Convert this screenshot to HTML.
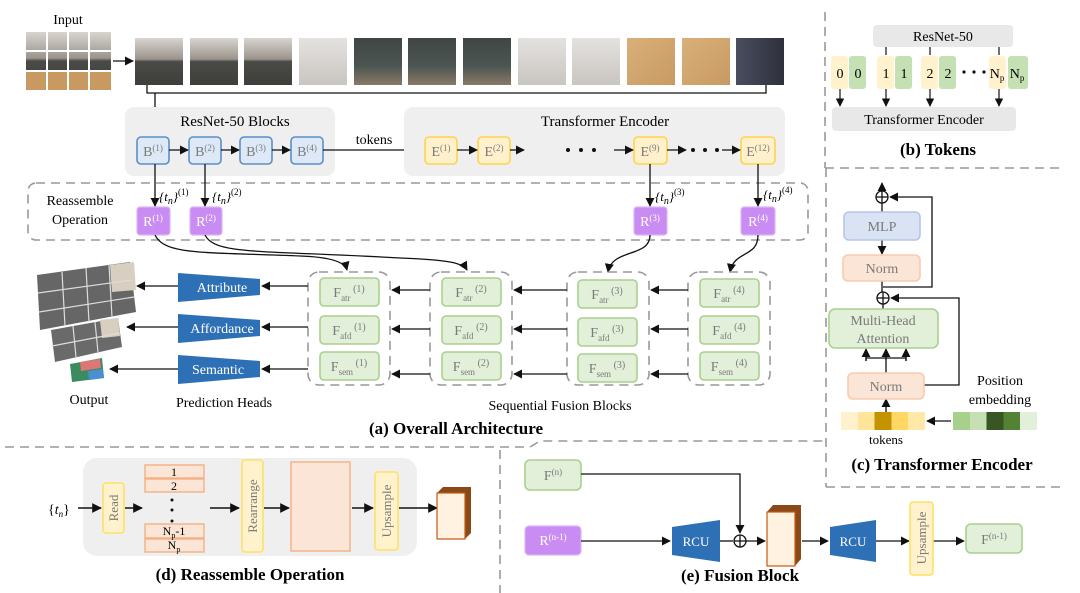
<!DOCTYPE html>
<html><head><meta charset="utf-8"><style>
html,body{margin:0;padding:0;background:#fff;}
svg{display:block;font-family:"Liberation Serif",serif;}
.g{fill:#7a7a7a;}
</style></head><body>
<svg width="1080" height="593" viewBox="0 0 1080 593" xmlns="http://www.w3.org/2000/svg">
<defs>
<marker id="a" viewBox="0 0 10 10" refX="9" refY="5" markerWidth="7" markerHeight="7" orient="auto-start-reverse"><path d="M0,0L10,5L0,10z" fill="#111"/></marker>
<linearGradient id="t1" x1="0" y1="0" x2="0" y2="1"><stop offset="0" stop-color="#d8d4cf"/><stop offset="0.45" stop-color="#9a948c"/><stop offset="0.5" stop-color="#4a4a46"/><stop offset="1" stop-color="#3e3e3a"/></linearGradient>
<linearGradient id="t2" x1="0" y1="0" x2="0" y2="1"><stop offset="0" stop-color="#e4e2e0"/><stop offset="1" stop-color="#c9c5c0"/></linearGradient>
<linearGradient id="t3" x1="0" y1="0" x2="0" y2="1"><stop offset="0" stop-color="#3f4644"/><stop offset="0.6" stop-color="#4d5552"/><stop offset="1" stop-color="#8a7a66"/></linearGradient>
<linearGradient id="t4" x1="0" y1="0" x2="1" y2="1"><stop offset="0" stop-color="#d9b07a"/><stop offset="1" stop-color="#c89a62"/></linearGradient>
<linearGradient id="t5" x1="0" y1="0" x2="1" y2="0"><stop offset="0" stop-color="#4a4d5e"/><stop offset="1" stop-color="#2e303c"/></linearGradient>
<linearGradient id="tok" x1="0" y1="0" x2="1" y2="0"><stop offset="0" stop-color="#fff1cc"/><stop offset="0.2" stop-color="#fff1cc"/><stop offset="0.2" stop-color="#ffe49a"/><stop offset="0.4" stop-color="#ffe49a"/><stop offset="0.4" stop-color="#c39300"/><stop offset="0.6" stop-color="#c39300"/><stop offset="0.6" stop-color="#ffd863"/><stop offset="0.8" stop-color="#ffd863"/><stop offset="0.8" stop-color="#ffe8a8"/><stop offset="1" stop-color="#ffe8a8"/></linearGradient>
<linearGradient id="pos" x1="0" y1="0" x2="1" y2="0"><stop offset="0" stop-color="#a8d08d"/><stop offset="0.2" stop-color="#a8d08d"/><stop offset="0.2" stop-color="#c6e0b4"/><stop offset="0.4" stop-color="#c6e0b4"/><stop offset="0.4" stop-color="#375623"/><stop offset="0.6" stop-color="#375623"/><stop offset="0.6" stop-color="#548235"/><stop offset="0.8" stop-color="#548235"/><stop offset="0.8" stop-color="#e2efda"/><stop offset="1" stop-color="#e2efda"/></linearGradient>
</defs>

<!-- Input -->
<text x="68" y="24" font-size="14" text-anchor="middle">Input</text>
<rect x="26" y="32" width="85" height="58" fill="url(#t1)"/>
<rect x="26" y="72" width="85" height="18" fill="#c89a62"/>
<g stroke="#fff" stroke-width="2"><line x1="47" y1="32" x2="47" y2="90"/><line x1="68" y1="32" x2="68" y2="90"/><line x1="89" y1="32" x2="89" y2="90"/><line x1="26" y1="51" x2="111" y2="51"/><line x1="26" y1="71" x2="111" y2="71"/></g>
<line x1="113" y1="61" x2="133" y2="61" stroke="#111" stroke-width="1.3" marker-end="url(#a)"/>

<!-- thumbnails -->
<rect x="135" y="38" width="48" height="47" fill="url(#t1)"/>
<rect x="190" y="38" width="48" height="47" fill="url(#t1)"/>
<rect x="244" y="38" width="48" height="47" fill="url(#t1)"/>
<rect x="299" y="38" width="48" height="47" fill="url(#t2)"/>
<rect x="354" y="38" width="48" height="47" fill="url(#t3)"/>
<rect x="408" y="38" width="48" height="47" fill="url(#t3)"/>
<rect x="463" y="38" width="48" height="47" fill="url(#t3)"/>
<rect x="518" y="38" width="48" height="47" fill="url(#t2)"/>
<rect x="572" y="38" width="48" height="47" fill="url(#t2)"/>
<rect x="627" y="38" width="48" height="47" fill="url(#t4)"/>
<rect x="682" y="38" width="48" height="47" fill="url(#t4)"/>
<rect x="736" y="38" width="48" height="47" fill="url(#t5)"/>
<path d="M147,85V93H766V85" fill="none" stroke="#111" stroke-width="1.3"/>
<line x1="155" y1="93" x2="155" y2="136" stroke="#111" stroke-width="1.3" marker-end="url(#a)"/>

<!-- ResNet blocks -->
<rect x="125" y="107" width="210" height="69" rx="9" fill="#efefef"/>
<text x="235" y="126" font-size="15" text-anchor="middle">ResNet-50 Blocks</text>
<g fill="#dde9f6" stroke="#5b8fc7" stroke-width="1.6">
<rect x="137" y="137" width="32" height="27" rx="4"/><rect x="189" y="137" width="32" height="27" rx="4"/><rect x="240" y="137" width="32" height="27" rx="4"/><rect x="291" y="137" width="32" height="27" rx="4"/></g>
<g font-size="14" class="g" text-anchor="middle">
<text x="153" y="156">B<tspan font-size="9" dy="-5">(1)</tspan></text>
<text x="205" y="156">B<tspan font-size="9" dy="-5">(2)</tspan></text>
<text x="256" y="156">B<tspan font-size="9" dy="-5">(3)</tspan></text>
<text x="307" y="156">B<tspan font-size="9" dy="-5">(4)</tspan></text></g>
<g stroke="#111" stroke-width="1.3" fill="none">
<line x1="169" y1="150" x2="188" y2="150" marker-end="url(#a)"/>
<line x1="221" y1="150" x2="239" y2="150" marker-end="url(#a)"/>
<line x1="272" y1="150" x2="290" y2="150" marker-end="url(#a)"/>
<line x1="323" y1="150" x2="424" y2="150" marker-end="url(#a)"/></g>
<text x="374" y="144" font-size="14" text-anchor="middle">tokens</text>

<!-- Transformer encoder -->
<rect x="404" y="107" width="381" height="69" rx="9" fill="#efefef"/>
<text x="605" y="126" font-size="15" text-anchor="middle">Transformer Encoder</text>
<g fill="#fff1cc" stroke="#ffd34d" stroke-width="1.6">
<rect x="425" y="137" width="32" height="27" rx="4"/><rect x="478" y="137" width="32" height="27" rx="4"/><rect x="634" y="137" width="33" height="27" rx="4"/><rect x="741" y="137" width="34" height="27" rx="4"/></g>
<g font-size="14" class="g" text-anchor="middle">
<text x="441" y="156">E<tspan font-size="9" dy="-5">(1)</tspan></text>
<text x="494" y="156">E<tspan font-size="9" dy="-5">(2)</tspan></text>
<text x="650" y="156">E<tspan font-size="9" dy="-5">(9)</tspan></text>
<text x="758" y="156">E<tspan font-size="9" dy="-5">(12)</tspan></text></g>
<g stroke="#111" stroke-width="1.3" fill="none">
<line x1="457" y1="150" x2="477" y2="150" marker-end="url(#a)"/>
<line x1="510" y1="150" x2="524" y2="150" marker-end="url(#a)"/>
<line x1="614" y1="150" x2="633" y2="150" marker-end="url(#a)"/>
<line x1="667" y1="150" x2="686" y2="150" marker-end="url(#a)"/>
<line x1="722" y1="150" x2="740" y2="150" marker-end="url(#a)"/></g>
<g fill="#111"><circle cx="568" cy="150" r="2"/><circle cx="581" cy="150" r="2"/><circle cx="594" cy="150" r="2"/>
<circle cx="693" cy="150" r="2"/><circle cx="705" cy="150" r="2"/><circle cx="717" cy="150" r="2"/></g>

<!-- reassemble dashed -->
<rect x="28" y="183" width="780" height="57" rx="8" fill="none" stroke="#999" stroke-width="1.6" stroke-dasharray="9,6"/>
<text x="80" y="205" font-size="14" text-anchor="middle">Reassemble</text>
<text x="80" y="224" font-size="14" text-anchor="middle">Operation</text>
<g fill="#c98cf2" stroke="#dcb4f7" stroke-width="1.2">
<rect x="137" y="207" width="33" height="28" rx="3"/><rect x="190" y="207" width="32" height="28" rx="3"/><rect x="634" y="207" width="33" height="28" rx="3"/><rect x="741" y="207" width="34" height="28" rx="3"/></g>
<g font-size="14" fill="#fff" text-anchor="middle">
<text x="153" y="226">R<tspan font-size="9" dy="-5">(1)</tspan></text>
<text x="206" y="226">R<tspan font-size="9" dy="-5">(2)</tspan></text>
<text x="650" y="226">R<tspan font-size="9" dy="-5">(3)</tspan></text>
<text x="758" y="226">R<tspan font-size="9" dy="-5">(4)</tspan></text></g>
<g stroke="#111" stroke-width="1.3" fill="none">
<line x1="155" y1="164" x2="155" y2="206" marker-end="url(#a)"/>
<line x1="205" y1="164" x2="205" y2="206" marker-end="url(#a)"/>
<line x1="650" y1="164" x2="650" y2="206" marker-end="url(#a)"/>
<line x1="758" y1="164" x2="758" y2="206" marker-end="url(#a)"/></g>
<g font-size="13" font-style="italic">
<text x="159" y="201">{t<tspan font-size="10" dy="3">n</tspan><tspan dy="-3">}</tspan><tspan font-style="normal" font-size="9" dy="-6">(1)</tspan></text>
<text x="212" y="201">{t<tspan font-size="10" dy="3">n</tspan><tspan dy="-3">}</tspan><tspan font-style="normal" font-size="9" dy="-6">(2)</tspan></text>
<text x="655" y="201">{t<tspan font-size="10" dy="3">n</tspan><tspan dy="-3">}</tspan><tspan font-style="normal" font-size="9" dy="-6">(3)</tspan></text>
<text x="763" y="199">{t<tspan font-size="10" dy="3">n</tspan><tspan dy="-3">}</tspan><tspan font-style="normal" font-size="9" dy="-6">(4)</tspan></text></g>

<!-- curves -->
<g stroke="#111" stroke-width="1.3" fill="none">
<path d="M155,235C165,255 200,252 300,256C330,257 345,262 347,270" marker-end="url(#a)"/>
<path d="M205,235C215,255 260,250 400,258C450,260 463,263 467,270" marker-end="url(#a)"/>
<path d="M650,235C650,258 612,248 608,272" marker-end="url(#a)"/>
<path d="M758,235C758,258 734,250 730,272" marker-end="url(#a)"/></g>

<!-- fusion groups -->
<g fill="none" stroke="#999" stroke-width="1.6" stroke-dasharray="9,6">
<rect x="308" y="272" width="82" height="113" rx="11"/><rect x="430" y="272" width="82" height="113" rx="11"/><rect x="567" y="272" width="82" height="113" rx="11"/><rect x="688" y="272" width="82" height="113" rx="11"/></g>
<g fill="#e2efd9" stroke="#a9d18e" stroke-width="1.6">
<rect x="320" y="278" width="59" height="28" rx="4"/><rect x="320" y="316" width="59" height="28" rx="4"/><rect x="320" y="352" width="59" height="28" rx="4"/>
<rect x="442" y="278" width="59" height="28" rx="4"/><rect x="442" y="316" width="59" height="28" rx="4"/><rect x="442" y="352" width="59" height="28" rx="4"/>
<rect x="578" y="280" width="59" height="28" rx="4"/><rect x="578" y="318" width="59" height="28" rx="4"/><rect x="578" y="354" width="59" height="28" rx="4"/>
<rect x="700" y="279" width="59" height="28" rx="4"/><rect x="700" y="316" width="59" height="28" rx="4"/><rect x="700" y="352" width="59" height="28" rx="4"/></g>
<g font-size="14" class="g" text-anchor="middle">
<text x="349" y="297">F<tspan font-size="9" dy="4">atr</tspan><tspan font-size="10" dy="-9"> (1)</tspan></text>
<text x="349" y="335">F<tspan font-size="9" dy="4">afd</tspan><tspan font-size="10" dy="-9"> (1)</tspan></text>
<text x="349" y="371">F<tspan font-size="9" dy="4">sem</tspan><tspan font-size="10" dy="-9"> (1)</tspan></text>
<text x="471" y="297">F<tspan font-size="9" dy="4">atr</tspan><tspan font-size="10" dy="-9"> (2)</tspan></text>
<text x="471" y="335">F<tspan font-size="9" dy="4">afd</tspan><tspan font-size="10" dy="-9"> (2)</tspan></text>
<text x="471" y="371">F<tspan font-size="9" dy="4">sem</tspan><tspan font-size="10" dy="-9"> (2)</tspan></text>
<text x="607" y="299">F<tspan font-size="9" dy="4">atr</tspan><tspan font-size="10" dy="-9"> (3)</tspan></text>
<text x="607" y="337">F<tspan font-size="9" dy="4">afd</tspan><tspan font-size="10" dy="-9"> (3)</tspan></text>
<text x="607" y="373">F<tspan font-size="9" dy="4">sem</tspan><tspan font-size="10" dy="-9"> (3)</tspan></text>
<text x="729" y="298">F<tspan font-size="9" dy="4">atr</tspan><tspan font-size="10" dy="-9"> (4)</tspan></text>
<text x="729" y="335">F<tspan font-size="9" dy="4">afd</tspan><tspan font-size="10" dy="-9"> (4)</tspan></text>
<text x="729" y="371">F<tspan font-size="9" dy="4">sem</tspan><tspan font-size="10" dy="-9"> (4)</tspan></text></g>
<g stroke="#111" stroke-width="1.3" fill="none">
<line x1="430" y1="290" x2="392" y2="290" marker-end="url(#a)"/>
<line x1="430" y1="329" x2="392" y2="329" marker-end="url(#a)"/>
<line x1="430" y1="374" x2="392" y2="374" marker-end="url(#a)"/>
<line x1="567" y1="290" x2="514" y2="290" marker-end="url(#a)"/>
<line x1="567" y1="329" x2="514" y2="329" marker-end="url(#a)"/>
<line x1="567" y1="374" x2="514" y2="374" marker-end="url(#a)"/>
<line x1="688" y1="290" x2="651" y2="290" marker-end="url(#a)"/>
<line x1="688" y1="329" x2="651" y2="329" marker-end="url(#a)"/>
<line x1="688" y1="374" x2="651" y2="374" marker-end="url(#a)"/>
<line x1="308" y1="286" x2="262" y2="286" marker-end="url(#a)"/>
<line x1="308" y1="327" x2="262" y2="327" marker-end="url(#a)"/>
<line x1="308" y1="369" x2="262" y2="369" marker-end="url(#a)"/>
<line x1="178" y1="286" x2="137" y2="286" marker-end="url(#a)"/>
<line x1="178" y1="327" x2="127" y2="327" marker-end="url(#a)"/>
<line x1="178" y1="369" x2="110" y2="369" marker-end="url(#a)"/></g>

<!-- heads -->
<g fill="#2e70b6">
<path d="M178,273L260,279L260,295L178,302z"/>
<path d="M178,314L260,320L260,336L178,343z"/>
<path d="M178,355L260,361L260,377L178,384z"/></g>
<g font-size="14" fill="#fff" text-anchor="middle">
<text x="222" y="292">Attribute</text><text x="222" y="333">Affordance</text><text x="218" y="374">Semantic</text></g>

<!-- output images -->
<path d="M37,275L130,262L136,312L40,330z" fill="#666"/>
<path d="M110,265L134,262L136,290L112,292z" fill="#d9cfc0"/>
<g stroke="#ddd" stroke-width="1.2"><line x1="62" y1="272" x2="65" y2="326"/><line x1="86" y1="268" x2="89" y2="322"/><line x1="109" y1="265" x2="112" y2="317"/><line x1="38" y1="293" x2="132" y2="280"/><line x1="39" y1="312" x2="134" y2="297"/></g>
<path d="M51,330L118,318L122,347L55,362z" fill="#6a6a6a"/>
<path d="M100,320L118,318L120,336L102,338z" fill="#d9cfc0"/>
<g stroke="#ddd" stroke-width="1.2"><line x1="73" y1="326" x2="76" y2="357"/><line x1="95" y1="322" x2="98" y2="352"/><line x1="52" y1="346" x2="120" y2="333"/></g>
<path d="M70,364L102,358L104,378L72,382z" fill="#3c8a60"/>
<path d="M80,362L100,359L101,368L81,371z" fill="#d77"/>
<path d="M88,371L103,369L104,378L89,380z" fill="#4a8fd0"/>

<text x="89" y="404" font-size="14" text-anchor="middle">Output</text>
<text x="224" y="407" font-size="14" text-anchor="middle">Prediction Heads</text>
<text x="560" y="410" font-size="14" text-anchor="middle">Sequential Fusion Blocks</text>
<text x="456" y="434" font-size="17" font-weight="bold" text-anchor="middle">(a) Overall Architecture</text>

<!-- separators -->
<g stroke="#999" stroke-width="1.6" stroke-dasharray="9,6" fill="none">
<line x1="825" y1="12" x2="825" y2="168"/>
<line x1="825" y1="168" x2="1060" y2="168"/>
<line x1="826" y1="168" x2="826" y2="487"/>
<line x1="826" y1="487" x2="1060" y2="487"/>
<path d="M5,447L530,447L540,441L826,441"/>
<line x1="500" y1="450" x2="500" y2="593"/></g>

<!-- (b) tokens -->
<rect x="873" y="25" width="140" height="22" rx="4" fill="#e8e8e8"/>
<text x="943" y="41" font-size="14" text-anchor="middle">ResNet-50</text>
<g fill="#fff2cc"><rect x="831" y="56" width="17" height="33" rx="3"/><rect x="877" y="56" width="17" height="33" rx="3"/><rect x="921" y="56" width="17" height="33" rx="3"/><rect x="989" y="56" width="17" height="33" rx="3"/></g>
<g fill="#c5e0b3"><rect x="849" y="56" width="17" height="33" rx="3"/><rect x="895" y="56" width="17" height="33" rx="3"/><rect x="939" y="56" width="17" height="33" rx="3"/><rect x="1008" y="56" width="20" height="33" rx="3"/></g>
<g font-size="14" text-anchor="middle">
<text x="840" y="78">0</text><text x="858" y="78">0</text><text x="886" y="78">1</text><text x="904" y="78">1</text><text x="930" y="78">2</text><text x="948" y="78">2</text>
<text x="997" y="78">N<tspan font-size="9" dy="3">p</tspan></text><text x="1017" y="78">N<tspan font-size="9" dy="3">p</tspan></text></g>
<g fill="#111"><circle cx="964" cy="72" r="1.6"/><circle cx="974" cy="72" r="1.6"/><circle cx="984" cy="72" r="1.6"/></g>
<g stroke="#111" stroke-width="1.2" fill="none">
<line x1="886" y1="47" x2="886" y2="55"/><line x1="930" y1="47" x2="930" y2="55"/><line x1="999" y1="47" x2="999" y2="55"/>
<line x1="840" y1="89" x2="840" y2="106" marker-end="url(#a)"/><line x1="886" y1="89" x2="886" y2="106" marker-end="url(#a)"/><line x1="930" y1="89" x2="930" y2="106" marker-end="url(#a)"/><line x1="999" y1="89" x2="999" y2="106" marker-end="url(#a)"/></g>
<rect x="832" y="107" width="184" height="24" rx="4" fill="#e8e8e8"/>
<text x="924" y="124" font-size="14" text-anchor="middle">Transformer Encoder</text>
<text x="938" y="155" font-size="17" font-weight="bold" text-anchor="middle">(b) Tokens</text>

<!-- (c) transformer encoder -->
<g stroke="#111" stroke-width="1.3" fill="none">
<line x1="882" y1="190" x2="882" y2="183" marker-end="url(#a)"/>
<circle cx="882" cy="197" r="6"/><line x1="876" y1="197" x2="888" y2="197"/><line x1="882" y1="191" x2="882" y2="203"/>
<line x1="882" y1="203" x2="882" y2="212"/>
<line x1="882" y1="240" x2="882" y2="254" marker-end="url(#a)"/>
<line x1="882" y1="281" x2="882" y2="292"/>
<circle cx="883" cy="298" r="6"/><line x1="877" y1="298" x2="889" y2="298"/><line x1="883" y1="292" x2="883" y2="304"/>
<line x1="883" y1="304" x2="883" y2="309"/>
<path d="M883,287H932V197H890" marker-end="url(#a)"/>
<path d="M924,385H959V298H891" marker-end="url(#a)"/>
<line x1="886" y1="373" x2="886" y2="358"/>
<path d="M866,361V358H906V361"/>
<line x1="866" y1="361" x2="866" y2="349" marker-end="url(#a)"/>
<line x1="886" y1="360" x2="886" y2="349" marker-end="url(#a)"/>
<line x1="906" y1="361" x2="906" y2="349" marker-end="url(#a)"/>
<line x1="886" y1="412" x2="886" y2="399" marker-end="url(#a)"/>
<line x1="951" y1="421" x2="927" y2="421" marker-end="url(#a)"/></g>
<rect x="844" y="212" width="76" height="28" rx="5" fill="#dae3f3" stroke="#b4c7e7" stroke-width="1.6"/>
<text x="882" y="231" font-size="14" class="g" text-anchor="middle">MLP</text>
<rect x="843" y="255" width="77" height="26" rx="5" fill="#fbe5d6" stroke="#f8cbad" stroke-width="1.6"/>
<text x="882" y="273" font-size="14" class="g" text-anchor="middle">Norm</text>
<rect x="829" y="309" width="109" height="39" rx="6" fill="#e2efd9" stroke="#a9d18e" stroke-width="1.6"/>
<text x="883" y="325" font-size="14" class="g" text-anchor="middle">Multi-Head</text>
<text x="883" y="343" font-size="14" class="g" text-anchor="middle">Attention</text>
<rect x="848" y="373" width="76" height="26" rx="5" fill="#fbe5d6" stroke="#f8cbad" stroke-width="1.6"/>
<text x="886" y="391" font-size="14" class="g" text-anchor="middle">Norm</text>
<rect x="841" y="412" width="84" height="18" fill="url(#tok)"/>
<rect x="953" y="412" width="84" height="18" fill="url(#pos)"/>
<text x="886" y="444" font-size="13" text-anchor="middle">tokens</text>
<text x="1000" y="385" font-size="14" text-anchor="middle">Position</text>
<text x="1000" y="404" font-size="14" text-anchor="middle">embedding</text>
<text x="942" y="470" font-size="17" font-weight="bold" text-anchor="middle">(c) Transformer Encoder</text>

<!-- (d) reassemble -->
<rect x="83" y="458" width="334" height="98" rx="14" fill="#efefef"/>
<text x="48" y="514" font-size="14">{<tspan font-style="italic">t</tspan><tspan font-size="9" dy="3" font-style="italic">n</tspan><tspan dy="-3">}</tspan></text>
<g stroke="#111" stroke-width="1.4" fill="none">
<line x1="78" y1="508" x2="101" y2="508" marker-end="url(#a)"/>
<line x1="125" y1="508" x2="142" y2="508" marker-end="url(#a)"/>
<line x1="210" y1="508" x2="239" y2="508" marker-end="url(#a)"/>
<line x1="264" y1="508" x2="289" y2="508" marker-end="url(#a)"/>
<line x1="352" y1="508" x2="373" y2="508" marker-end="url(#a)"/>
<line x1="399" y1="508" x2="437" y2="508" marker-end="url(#a)"/></g>
<rect x="103" y="483" width="21" height="50" rx="3" fill="#fff2cc" stroke="#ffe066" stroke-width="1.6"/>
<text transform="translate(118,508) rotate(-90)" font-size="13" class="g" text-anchor="middle">Read</text>
<g fill="#fbe5d6" stroke="#f4b183" stroke-width="1.4">
<rect x="145" y="465" width="59" height="13"/><rect x="145" y="479" width="59" height="13"/><rect x="145" y="524" width="59" height="14"/><rect x="145" y="539" width="59" height="13"/></g>
<g font-size="12" text-anchor="middle"><text x="174" y="476">1</text><text x="174" y="490">2</text>
<text x="174" y="535">N<tspan font-size="8" dy="3">p</tspan><tspan dy="-3">-1</tspan></text><text x="174" y="549">N<tspan font-size="8" dy="3">p</tspan></text></g>
<g fill="#111"><circle cx="172" cy="500" r="1.5"/><circle cx="172" cy="510" r="1.5"/><circle cx="172" cy="521" r="1.5"/></g>
<rect x="242" y="460" width="21" height="92" rx="3" fill="#fff2cc" stroke="#ffe066" stroke-width="1.6"/>
<text transform="translate(257,506) rotate(-90)" font-size="13" class="g" text-anchor="middle">Rearrange</text>
<rect x="291" y="462" width="59" height="89" fill="#fbe5d6" stroke="#f4b183" stroke-width="1.4"/>
<rect x="375" y="472" width="23" height="78" rx="3" fill="#fff2cc" stroke="#ffe066" stroke-width="1.6"/>
<text transform="translate(391,511) rotate(-90)" font-size="13" class="g" text-anchor="middle">Upsample</text>
<path d="M437,493L443,487L471,487L471,533L465,539z" fill="#8a4a18"/>
<rect x="437" y="493" width="28" height="46" fill="#fff2e0" stroke="#c55a11" stroke-width="1.2"/>
<text x="250" y="580" font-size="17" font-weight="bold" text-anchor="middle">(d) Reassemble Operation</text>

<!-- (e) fusion -->
<rect x="525" y="460" width="56" height="30" rx="5" fill="#e2efd9" stroke="#a9d18e" stroke-width="1.6"/>
<text x="553" y="480" font-size="14" class="g" text-anchor="middle">F<tspan font-size="9" dy="-5">(n)</tspan></text>
<rect x="525" y="526" width="56" height="29" rx="4" fill="#c98cf2" stroke="#dcb4f7" stroke-width="1.2"/>
<text x="553" y="545" font-size="14" fill="#fff" text-anchor="middle">R<tspan font-size="9" dy="-5">(n-1)</tspan></text>
<g stroke="#111" stroke-width="1.3" fill="none">
<path d="M581,474H740V533" marker-end="url(#a)"/>
<line x1="581" y1="541" x2="670" y2="541" marker-end="url(#a)"/>
<line x1="720" y1="541" x2="733" y2="541"/>
<circle cx="740" cy="541" r="6"/><line x1="734" y1="541" x2="746" y2="541"/><line x1="740" y1="535" x2="740" y2="547"/>
<line x1="746" y1="541" x2="765" y2="541" marker-end="url(#a)"/>
<line x1="802" y1="541" x2="828" y2="541" marker-end="url(#a)"/>
<line x1="876" y1="541" x2="909" y2="541" marker-end="url(#a)"/>
<line x1="933" y1="541" x2="964" y2="541" marker-end="url(#a)"/></g>
<path d="M672,527L720,520L720,562L672,555z" fill="#2e70b6"/>
<text x="696" y="546" font-size="13" fill="#fff" text-anchor="middle">RCU</text>
<path d="M767,512L773,505L801,505L801,559L795,566z" fill="#8a4a18"/>
<rect x="767" y="512" width="28" height="54" fill="#fff2e0" stroke="#c55a11" stroke-width="1.2"/>
<path d="M830,527L876,520L876,562L830,555z" fill="#2e70b6"/>
<text x="853" y="546" font-size="13" fill="#fff" text-anchor="middle">RCU</text>
<rect x="910" y="502" width="23" height="73" rx="3" fill="#fff2cc" stroke="#ffe066" stroke-width="1.6"/>
<text transform="translate(926,538) rotate(-90)" font-size="13" class="g" text-anchor="middle">Upsample</text>
<rect x="966" y="524" width="56" height="29" rx="5" fill="#e2efd9" stroke="#a9d18e" stroke-width="1.6"/>
<text x="994" y="544" font-size="14" class="g" text-anchor="middle">F<tspan font-size="9" dy="-5">(n-1)</tspan></text>
<text x="740" y="581" font-size="17" font-weight="bold" text-anchor="middle">(e) Fusion Block</text>
</svg>
</body></html>
